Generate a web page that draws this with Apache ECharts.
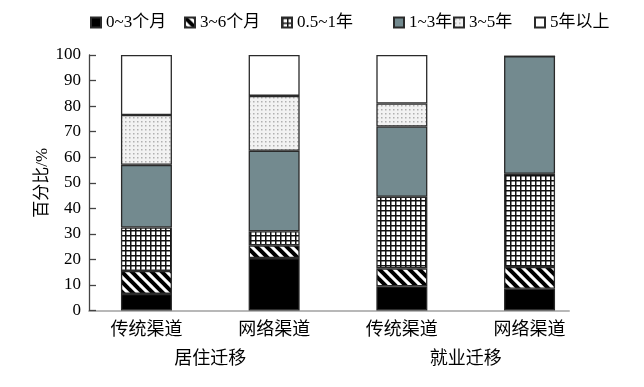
<!DOCTYPE html>
<html>
<head>
<meta charset="utf-8">
<script src="https://cdn.jsdelivr.net/npm/echarts@6/dist/echarts.min.js"></script>
<style>html,body{margin:0;padding:0;background:#fff}#c{width:644px;height:387px}</style>
</head>
<body>
<div id="c"></div>
<script>
var categories = ['传统渠道', '网络渠道', '传统渠道', '网络渠道'];
var groups = ['居住迁移', '就业迁移'];
var seriesNames = ['0~3个月', '3~6个月', '0.5~1年', '1~3年', '3~5年', '5年以上'];
var s0to3m = [6.5, 20.5, 9.5, 8.5];
var s3to6m = [9, 5, 7, 8.5];
var s05to1y = [17, 5.5, 28, 36.5];
var s1to3y = [24.5, 31.5, 27.5, 46];
var s3to5y = [19.5, 21.5, 9, 0];
var s5yplus = [23.5, 16, 19, 0];
var yTicks = [0, 10, 20, 30, 40, 50, 60, 70, 80, 90, 100];

function pat(w, h, draw) {
  var c = document.createElement('canvas');
  c.width = w; c.height = h;
  var g = c.getContext('2d');
  draw(g, w, h);
  return { image: c, repeat: 'repeat' };
}
var stripe = pat(10, 10, function (g, w, h) {
  g.fillStyle = '#fff'; g.fillRect(0, 0, w, h);
  g.strokeStyle = '#000'; g.lineWidth = 4;
  for (var k = -2; k <= 2; k++) {
    g.beginPath(); g.moveTo(k * 10 - 2, -2); g.lineTo(k * 10 + 12, 12); g.stroke();
  }
});
var grid = pat(5, 5, function (g, w, h) {
  g.fillStyle = '#111'; g.fillRect(0, 0, w, h);
  g.fillStyle = '#fff'; g.fillRect(1.5, 1.5, 3.5, 3.5);
});
var dots = pat(4, 4, function (g, w, h) {
  g.fillStyle = '#f2f2f2'; g.fillRect(0, 0, w, h);
  g.fillStyle = '#b0b0b0'; g.fillRect(1, 1, 1.5, 1.5);
});
var fills = ['#000', stripe, grid, '#738a8f', dots, '#fff'];
var values = [s0to3m, s3to6m, s05to1y, s1to3y, s3to5y, s5yplus];

var FONT = "'Liberation Serif', 'Noto Sans CJK SC', serif";
var series = seriesNames.map(function (n, i) {
  return {
    name: n, type: 'bar', stack: 'all', xAxisIndex: 0, yAxisIndex: 0,
    barWidth: 51, data: values[i],
    itemStyle: { color: fills[i], borderColor: '#2a2a2a', borderWidth: 1.3 }
  };
});

var legendLefts = [85, 179, 276, 388, 448, 529];
var legends = seriesNames.map(function (n, i) {
  return {
    top: 9, left: legendLefts[i], itemWidth: 10, itemHeight: 10, icon: 'rect',
    textStyle: { fontFamily: FONT, fontSize: 17, color: '#000' },
    data: [n]
  };
});

var chart = echarts.init(document.getElementById('c'));
chart.setOption({
  animation: false,
  textStyle: { fontFamily: FONT, color: '#000' },
  legend: legends,
  grid: [
    { left: 82.6, right: 50.6, top: 55, bottom: 76.5 },
    { left: 89, right: 75, top: 55, bottom: 76.5 }
  ],
  xAxis: [
    { type: 'category', gridIndex: 0, data: categories,
      axisLine: { show: false }, axisTick: { show: false },
      axisLabel: { fontFamily: FONT, fontSize: 18, color: '#000', margin: 11 } },
    { type: 'category', gridIndex: 0, data: groups, position: 'bottom', offset: 29,
      axisLine: { show: false }, axisTick: { show: false },
      axisLabel: { fontFamily: FONT, fontSize: 18, color: '#000', margin: 11 } },
    { type: 'value', gridIndex: 1, min: 0, max: 1,
      axisLine: { show: true, lineStyle: { color: '#b8b8b8', width: 2 } },
      axisTick: { show: false }, axisLabel: { show: false }, splitLine: { show: false } }
  ],
  yAxis: [
    { type: 'value', gridIndex: 0, min: 0, max: 100, show: false, splitLine: { show: false } },
    { type: 'value', gridIndex: 1, min: yTicks[0], max: yTicks[yTicks.length - 1], interval: 10,
      name: '百分比/%', nameLocation: 'middle', nameGap: 38, nameRotate: 90,
      nameMoveOverlap: false,
      nameTextStyle: { fontFamily: FONT, fontSize: 17, color: '#000' },
      axisLine: { show: true, lineStyle: { color: '#444', width: 1.3 } },
      axisTick: { show: true, inside: true, length: 7, lineStyle: { color: '#444', width: 1.3 } },
      axisLabel: { fontFamily: FONT, fontSize: 17, color: '#000', margin: 8 },
      splitLine: { show: false } }
  ],
  series: series
});
</script>
</body>
</html>
